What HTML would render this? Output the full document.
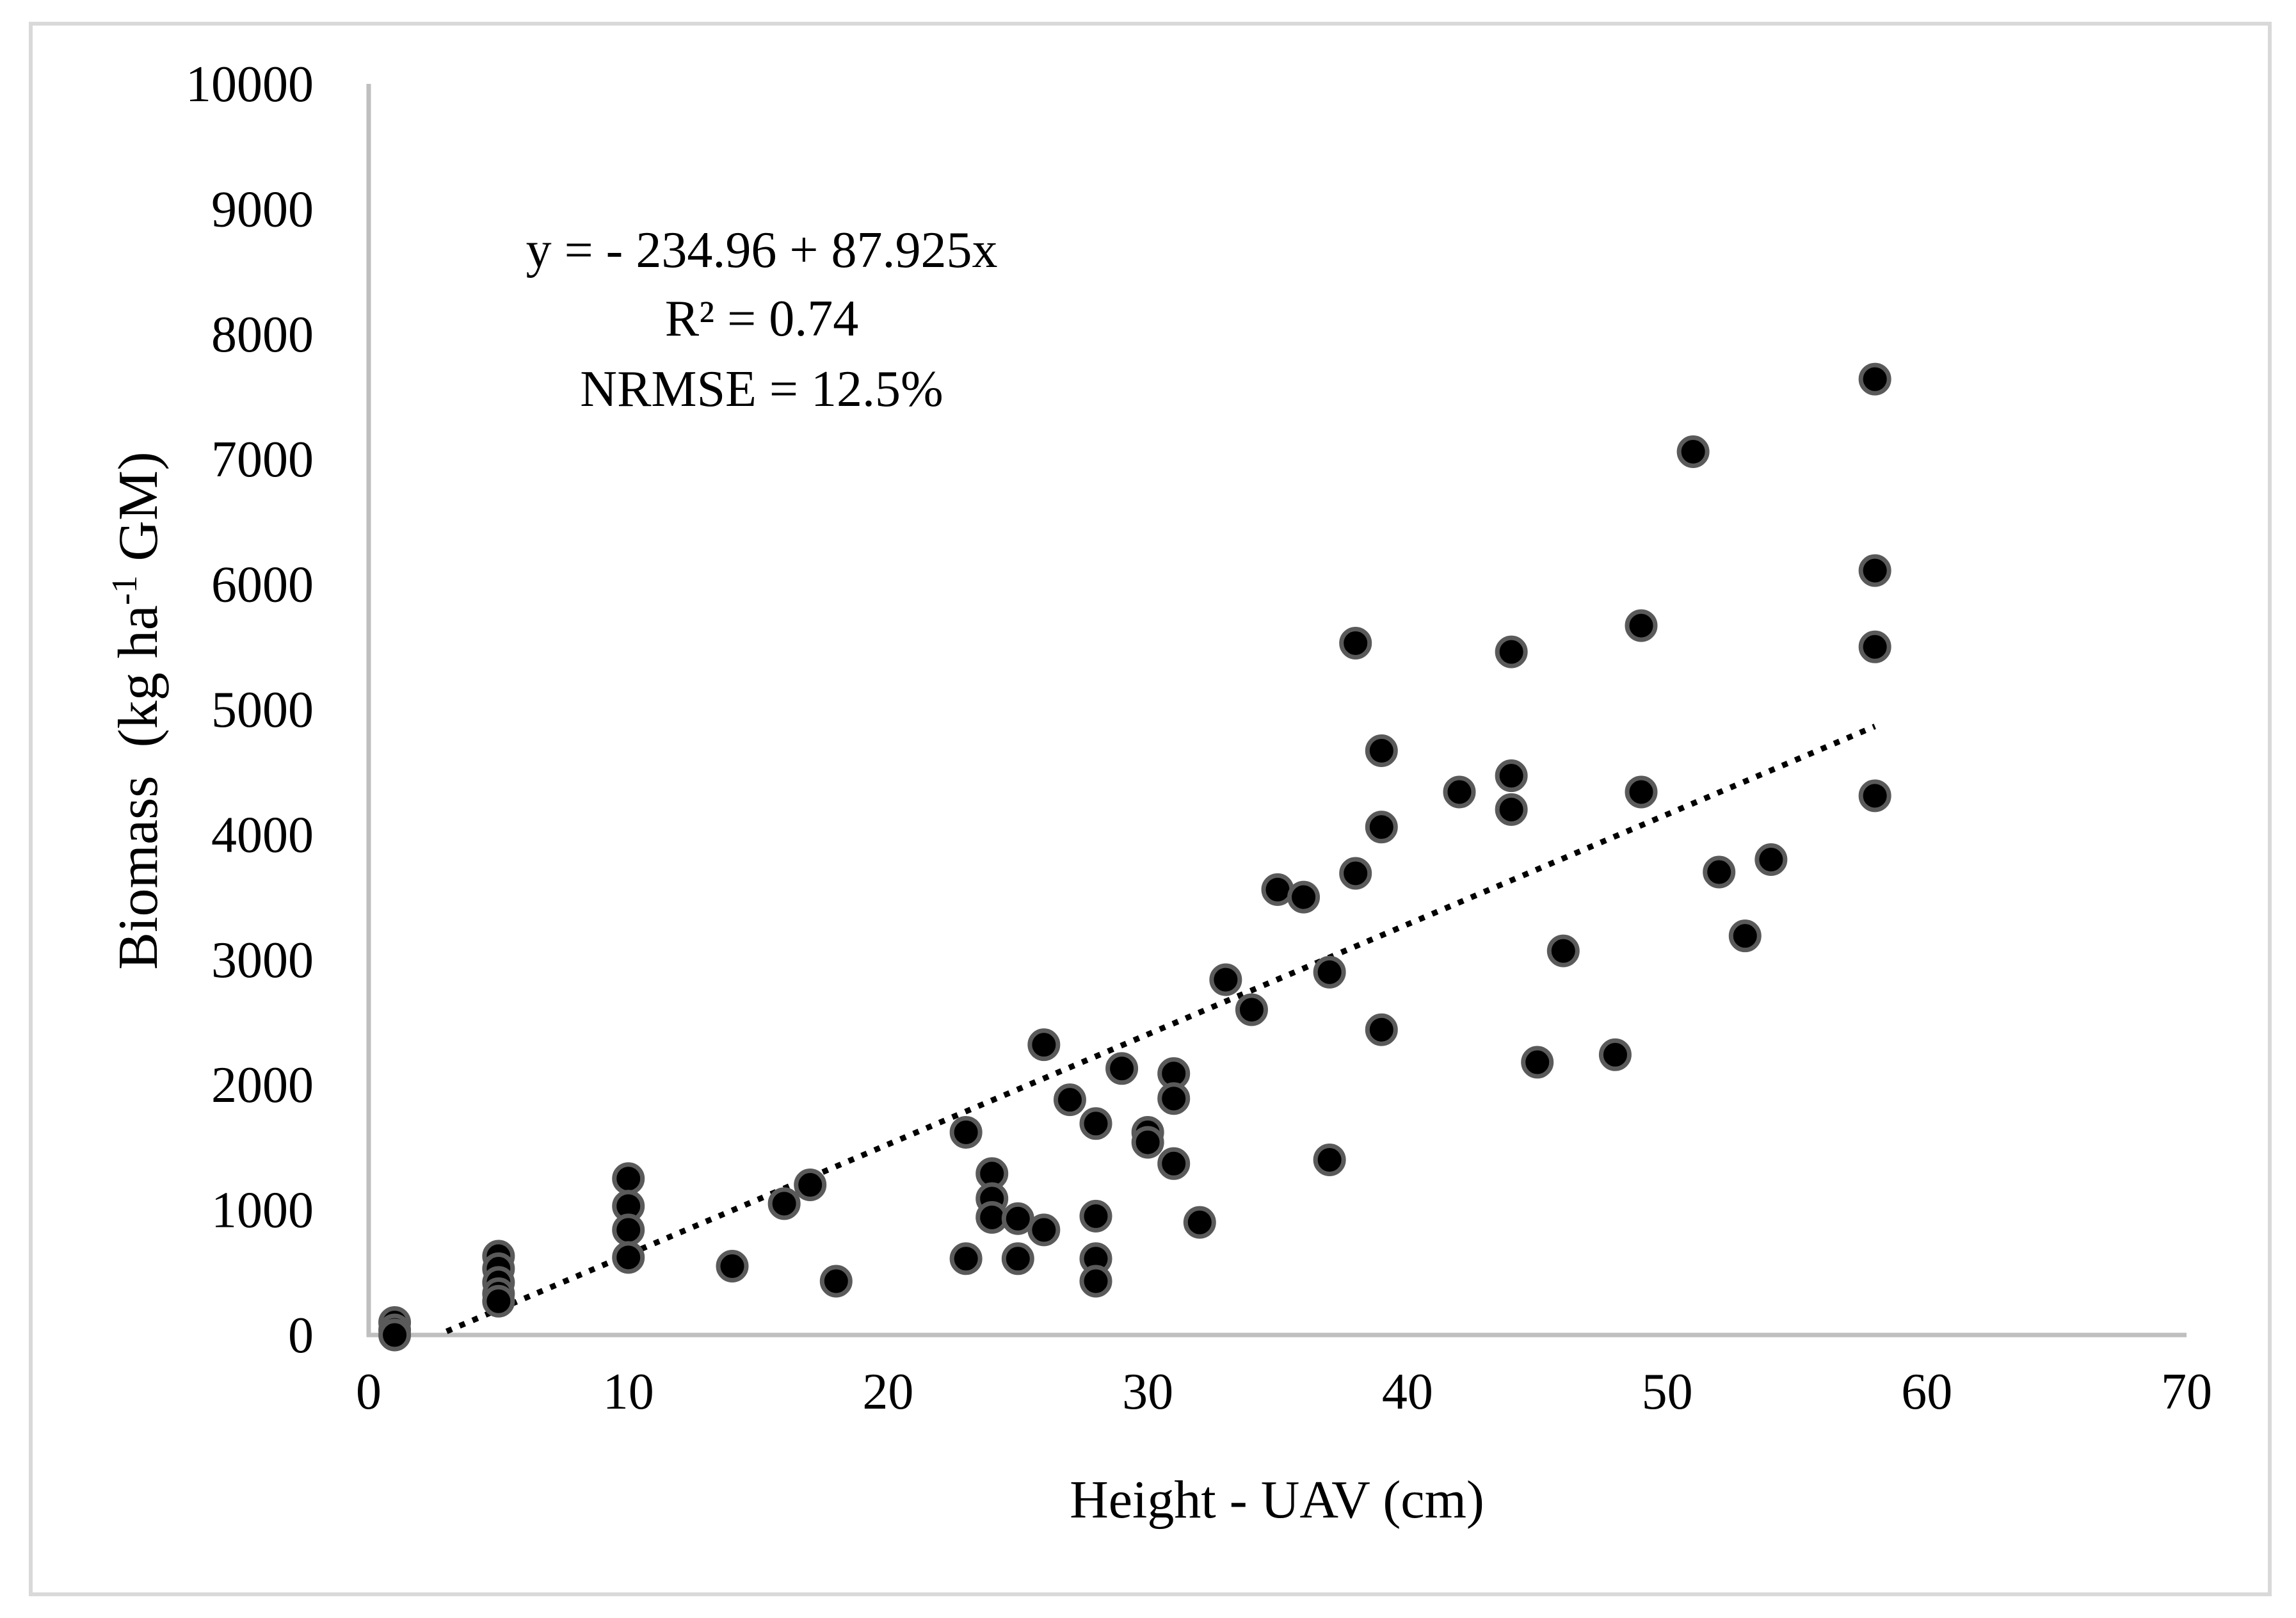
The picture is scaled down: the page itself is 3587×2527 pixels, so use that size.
<!DOCTYPE html>
<html><head><meta charset="utf-8"><style>
html,body{margin:0;padding:0;background:#fff;}
svg{display:block;font-family:"Liberation Serif",serif;}
</style></head><body>
<svg id="chart" width="3587" height="2527" viewBox="0 0 3587 2527" xmlns="http://www.w3.org/2000/svg">
<rect x="48" y="37" width="3498" height="2453" fill="#fff" stroke="#d9d9d9" stroke-width="6"/>
<g id="axes"></g>
<g id="trend"></g>
<g id="points"></g>
<g font-size="80" text-anchor="middle" fill="#000">
<text x="1190" y="417">y = - 234.96 + 87.925x</text>
<text x="1190" y="524">R² = 0.74</text>
<text x="1190" y="634">NRMSE = 12.5%</text>
</g>
<text x="1995" y="2370" font-size="84" text-anchor="middle">Height - UAV (cm)</text>
<text transform="translate(245,1110) rotate(-90)" font-size="88" text-anchor="middle" xml:space="preserve">Biomass  (kg ha<tspan font-size="56" dy="-32">-1</tspan><tspan dy="32"> GM)</tspan></text>
</svg>
<script>
const xTicks=[0,10,20,30,40,50,60,70];
const yTicks=[0,1000,2000,3000,4000,5000,6000,7000,8000,9000,10000];
const heights=[1,1,1,5,5,5,5,5,10,10,10,10,14,16,17,18,23,23,24,24,24,25,25,26,26,27,28,28,28,28,29,30,30,31,31,31,32,33,34,35,36,37,37,38,38,39,39,39,42,44,44,44,45,46,48,49,49,51,52,53,54,58,58,58,58];
const biomass=[100,40,0,630,530,420,330,270,1250,1030,840,620,550,1050,1200,430,1620,610,1290,1090,940,930,610,2320,840,1880,1690,950,610,430,2130,1620,1540,2090,1890,1370,900,2840,2600,3560,3500,2900,1400,5530,3690,4670,4060,2440,4340,5460,4470,4200,2180,3070,2240,5670,4340,7060,3700,3190,3800,7640,6110,5500,4310];
const trendIntercept=-234.96, trendSlope=87.925, trendX=[3,58];

const NS="http://www.w3.org/2000/svg";
const X0=576,X1=3416,Y0=2085,Y1=131;
const sx=v=>X0+(v-0)/(70-0)*(X1-X0);
const sy=v=>Y0-(v-0)/(10000-0)*(Y0-Y1);
function mk(tag,attrs,parent){const e=document.createElementNS(NS,tag);for(const k in attrs)e.setAttribute(k,attrs[k]);parent.appendChild(e);return e;}
const axes=document.getElementById('axes');
let l=mk('line',{x1:X0,y1:Y1,x2:X0,y2:Y0+3,stroke:'#bfbfbf','stroke-width':7},axes);


l=mk('line',{x1:X0-3,y1:Y0,x2:X1,y2:Y0,stroke:'#bfbfbf','stroke-width':7},axes);


xTicks.forEach(t=>{const e=mk('text',{x:sx(t),y:2200,'font-size':80,'text-anchor':'middle'},axes);e.textContent=t;

});
yTicks.forEach(t=>{const e=mk('text',{x:490,y:sy(t)+27,'font-size':80,'text-anchor':'end'},axes);e.textContent=t;

});
const tr=document.getElementById('trend');
const tl=mk('line',{x1:sx(trendX[0]),y1:sy(trendIntercept+trendSlope*trendX[0]),x2:sx(trendX[1]),y2:sy(trendIntercept+trendSlope*trendX[1]),stroke:'#000','stroke-width':9,'stroke-dasharray':'9 13'},tr);


const pts=document.getElementById('points');
heights.forEach((h,i)=>{const c=mk('circle',{cx:sx(h),cy:sy(biomass[i]),r:22,fill:'#000',stroke:'#5a5a5a','stroke-width':7},pts);

});
</script>
</body></html>
